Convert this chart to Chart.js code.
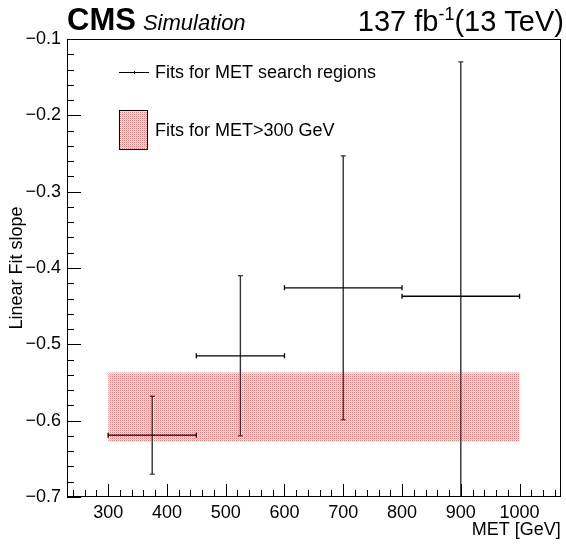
<!DOCTYPE html>
<html>
<head>
<meta charset="utf-8">
<script src="https://cdn.jsdelivr.net/npm/chart.js@4.4.1/dist/chart.umd.min.js"></script>
<style>
  html, body { margin: 0; padding: 0; background: #fff; overflow: hidden; }
  #wrap { width: 566px; height: 545px; }
</style>
</head>
<body>
<div id="wrap"><canvas id="slopeChart"></canvas></div>
<script>
// --- MET search regions: bin edges, centres and fitted slopes ---
const binLow    = [300, 450, 600, 800];
const binHigh   = [450, 600, 800, 1000];
const binCenter = [375, 525, 700, 900];
const slope     = [-0.619, -0.515, -0.426, -0.437];
const slopeErr  = [0.051, 0.105, 0.173, 0.307];

// --- inclusive fit for MET > 300 GeV ---
const inclRange = [300, 1000];
const inclSlope = -0.582;
const inclErr   = 0.045;

// --- axis ranges / labelled ticks ---
const xRange = [230, 1070];
const yRange = [-0.7, -0.1];
const xStep = 100, xMinorStep = 20;
const yStep = 0.1, yMinorStep = 0.02;

const FONT = '"Liberation Sans", Arial, Helvetica, sans-serif';

// red dotted fill, like ROOT's hatch style
function makePattern() {
    const c = document.createElement('canvas');
    c.width = 2; c.height = 2;
    const g = c.getContext('2d');
    g.fillStyle = '#fff0f0'; g.fillRect(0, 0, 2, 2);
    g.fillStyle = '#f67a7a'; g.fillRect(0, 0, 1, 1);
    g.fillStyle = '#fcc4c4'; g.fillRect(1, 1, 1, 1);
    return g.createPattern(c, 'repeat');
}
const bandFill = makePattern();

// build the error-bar segments from the arrays above
const datasets = [];
for (let i = 0; i < slope.length; i++) {
    datasets.push({
        data: [{ x: binLow[i], y: slope[i] }, { x: binHigh[i], y: slope[i] }],
        borderColor: '#000', borderWidth: 1.3,
        pointStyle: 'line', rotation: 90, pointRadius: 2.5,
        pointBorderColor: '#000', pointBorderWidth: 1.3,
        fill: false
    });
    datasets.push({
        data: [{ x: binCenter[i], y: slope[i] - slopeErr[i] }, { x: binCenter[i], y: slope[i] + slopeErr[i] }],
        borderColor: '#333', borderWidth: 1.4,
        pointStyle: 'line', rotation: 0, pointRadius: 2.5,
        pointBorderColor: '#333', pointBorderWidth: 1.3,
        fill: false
    });
}
// band: upper edge filled down to lower edge
datasets.push({
    data: inclRange.map(x => ({ x: x, y: inclSlope + inclErr })),
    borderWidth: 0, pointRadius: 0, fill: '+1',
    backgroundColor: bandFill, order: 10
});
datasets.push({
    data: inclRange.map(x => ({ x: x, y: inclSlope - inclErr })),
    borderWidth: 0, pointRadius: 0, fill: false, order: 10
});

const fmtY = v => (Math.round(v * 10) / 10).toFixed(1).replace('-', '\u2212');

// frame box plus inward ticks on the bottom and left axes
const framePlugin = {
    id: 'frame',
    afterDatasetsDraw(chart) {
        const ctx = chart.ctx, a = chart.chartArea;
        const xs = chart.scales.x, ys = chart.scales.y;
        ctx.save();
        ctx.strokeStyle = '#000';
        ctx.lineWidth = 1;
        ctx.strokeRect(Math.round(a.left) + 0.5, Math.round(a.top) + 0.5,
                       Math.round(a.right - a.left) - 1, Math.round(a.bottom - a.top) - 1);
        ctx.beginPath();
        for (let v = 240; v <= xRange[1]; v += xMinorStep) {
            const px = Math.round(xs.getPixelForValue(v)) + 0.5;
            const len = (v % xStep === 0) ? 13 : 7;
            ctx.moveTo(px, a.bottom);
            ctx.lineTo(px, a.bottom - len);
        }
        for (let k = 0; k <= 30; k++) {
            const v = yRange[0] + k * yMinorStep;
            const py = Math.round(ys.getPixelForValue(v)) + 0.5;
            const len = (k % 5 === 0) ? 14 : 7;
            ctx.moveTo(a.left, py);
            ctx.lineTo(a.left + len, py);
        }
        ctx.stroke();
        ctx.restore();
    }
};

// CMS label, luminosity and the legend
const textPlugin = {
    id: 'cmsText',
    afterDraw(chart) {
        const ctx = chart.ctx;
        ctx.save();
        ctx.fillStyle = '#000';
        ctx.textBaseline = 'alphabetic';
        ctx.textAlign = 'left';
        ctx.font = 'bold 31px ' + FONT;
        ctx.fillText('CMS', 67, 30);
        const w = ctx.measureText('CMS').width;
        ctx.font = 'italic 22px ' + FONT;
        ctx.fillText('Simulation', 67 + w + 7, 30);

        // 137 fb^-1 (13 TeV), right aligned to the frame
        const big = '29px ' + FONT, small = '18px ' + FONT;
        ctx.font = big;
        const t1 = '137 fb', t3 = '(13 TeV)';
        const w1 = ctx.measureText(t1).width, w3 = ctx.measureText(t3).width;
        ctx.font = small;
        const w2 = ctx.measureText('-1').width;
        let x = 564 - (w1 + w2 + w3);
        ctx.font = big; ctx.fillText(t1, x, 31); x += w1;
        ctx.font = small; ctx.fillText('-1', x, 20); x += w2;
        ctx.font = big; ctx.fillText(t3, x, 31);

        // legend
        ctx.font = '18px ' + FONT;
        ctx.textBaseline = 'middle';
        ctx.strokeStyle = '#000';
        ctx.lineWidth = 1;
        ctx.beginPath();
        ctx.moveTo(119, 72.5); ctx.lineTo(149, 72.5);
        ctx.moveTo(134.5, 71); ctx.lineTo(134.5, 74);
        ctx.stroke();
        ctx.fillText('Fits for MET search regions', 155, 73);

        ctx.fillStyle = bandFill;
        ctx.fillRect(119, 110, 29, 40);
        ctx.strokeRect(119.5, 110.5, 28, 39);
        ctx.fillStyle = '#000';
        ctx.fillText('Fits for MET>300 GeV', 155, 131);
        ctx.restore();
    }
};

const bgPlugin = {
    id: 'bg',
    beforeDraw(chart) {
        const ctx = chart.ctx;
        ctx.save();
        ctx.fillStyle = '#fff';
        ctx.fillRect(0, 0, chart.width, chart.height);
        ctx.restore();
    }
};

new Chart(document.getElementById('slopeChart').getContext('2d'), {
    type: 'line',
    data: { datasets: datasets },
    plugins: [bgPlugin, framePlugin, textPlugin],
    options: {
        responsive: true,
        maintainAspectRatio: false,
        animation: false,
        layout: { padding: { left: 0, right: 3, top: 39, bottom: 0 } },
        plugins: { legend: { display: false }, tooltip: { enabled: false } },
        scales: {
            x: {
                type: 'linear',
                min: xRange[0], max: xRange[1],
                afterFit: s => { s.height = 48; },
                grid: { display: false, drawTicks: false },
                border: { display: false },
                ticks: {
                    stepSize: xStep, includeBounds: false, autoSkip: false,
                    maxRotation: 0, padding: 5,
                    color: '#000', font: { family: FONT, size: 18 },
                    callback: v => String(v)
                },
                title: {
                    display: true, text: 'MET [GeV]', align: 'end',
                    color: '#000', font: { family: FONT, size: 18 },
                    padding: { top: 0, bottom: 4 }
                }
            },
            y: {
                min: yRange[0], max: yRange[1],
                afterFit: s => { s.width = 67; },
                grid: { display: false, drawTicks: false },
                border: { display: false },
                ticks: {
                    stepSize: yStep, autoSkip: false, padding: 6,
                    color: '#000', font: { family: FONT, size: 18 },
                    callback: v => fmtY(v)
                },
                title: {
                    display: true, text: 'Linear Fit slope',
                    color: '#000', font: { family: FONT, size: 18 },
                    padding: { top: 6, bottom: 0 }
                }
            }
        }
    }
});
</script>
</body>
</html>
